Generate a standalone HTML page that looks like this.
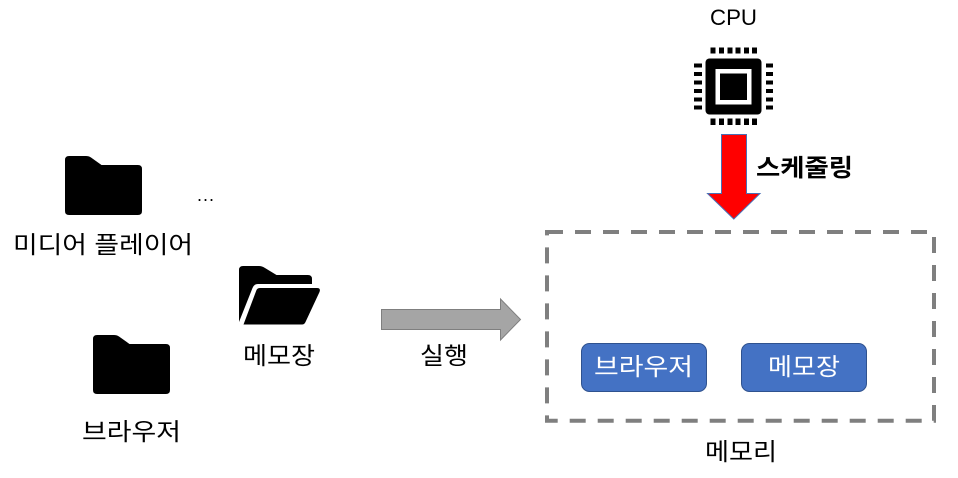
<!DOCTYPE html>
<html lang="ko">
<head>
<meta charset="utf-8">
<title>Diagram</title>
<style>
html,body{margin:0;padding:0;background:#fff;}
svg{display:block;}
text{font-family:"Liberation Sans","Noto Sans CJK KR",sans-serif;font-size:24px;fill:#000;}
.k{font-family:"Noto Sans CJK KR","NanumGothic",sans-serif;}
</style>
</head>
<body>
<svg width="958" height="478" viewBox="0 0 958 478" xmlns="http://www.w3.org/2000/svg">
<defs>
<path id="folder" d="M69 156H86Q89 156 91 157.500L101.500 165H138Q142 165 142 169V211Q142 215 138 215H69Q65 215 65 211V160Q65 156 69 156Z"/>
</defs>

<use href="#folder"/>
<use href="#folder" x="28" y="179"/>

<path d="M243 266H259Q262 266 265 268L276.500 275H308Q312 275 312 279V284H258Q254 284 252.500 288L239 322V270Q239 266 243 266Z"/>
<path d="M243.500 324.500L256.500 290Q257.500 288 260 288H317Q321 288 319.500 292L305.500 322Q304.500 324.500 302 324.500Z"/>

<rect x="705.500" y="58.500" width="56" height="56" rx="4"/>
<rect x="715.500" y="69" width="36" height="35.500" fill="#fff"/>
<rect x="720" y="73.500" width="27" height="26.500"/>
<g fill="#000">
<rect x="710.500" y="47.500" width="5" height="6"/><rect x="719" y="47.500" width="5" height="6"/><rect x="727.500" y="47.500" width="5" height="6"/><rect x="735.500" y="47.500" width="5" height="6"/><rect x="744" y="47.500" width="5" height="6"/><rect x="752" y="47.500" width="5" height="6"/>
<rect x="710.500" y="118.500" width="5" height="6.500"/><rect x="719" y="118.500" width="5" height="6.500"/><rect x="727.500" y="118.500" width="5" height="6.500"/><rect x="735.500" y="118.500" width="5" height="6.500"/><rect x="744" y="118.500" width="5" height="6.500"/><rect x="752" y="118.500" width="5" height="6.500"/>
<rect x="694" y="63.500" width="8" height="4"/><rect x="694" y="72" width="8" height="4"/><rect x="694" y="80.500" width="8" height="4"/><rect x="694" y="89" width="8" height="4"/><rect x="694" y="97.500" width="8" height="4"/><rect x="694" y="105.500" width="8" height="4"/>
<rect x="766" y="63.500" width="7" height="4"/><rect x="766" y="72" width="7" height="4"/><rect x="766" y="80.500" width="7" height="4"/><rect x="766" y="89" width="7" height="4"/><rect x="766" y="97.500" width="7" height="4"/><rect x="766" y="105.500" width="7" height="4"/>
</g>

<path d="M721.500 134.500H746.500V193.500H760L733.800 219L707.500 193.500H721.500Z" fill="#ff0000" stroke="#4a6fb5" stroke-width="1"/>
<path d="M381.500 309.500H500.500V299L520.500 319.500L500.500 340V329.500H381.500Z" fill="#a5a5a5" stroke="#7f7f7f" stroke-width="1"/>

<rect x="547" y="232" width="387" height="188.700" fill="none" stroke="#7f7f7f" stroke-width="4" stroke-dasharray="16 12"/>

<rect x="581.500" y="343.500" width="125" height="48" rx="8" fill="#4472c4" stroke="#2f528f" stroke-width="1"/>
<rect x="741.500" y="343.500" width="125" height="48" rx="8" fill="#4472c4" stroke="#2f528f" stroke-width="1"/>

<text x="710" y="25" textLength="47" lengthAdjust="spacingAndGlyphs" style="font-size:22px">CPU</text>
<text class="k" x="756" y="176" textLength="97" lengthAdjust="spacingAndGlyphs" style="font-weight:700">스케줄링</text>
<text x="197" y="201" textLength="17" style="font-size:18px">...</text>
<text class="k" x="13" y="253" textLength="180" lengthAdjust="spacingAndGlyphs">미디어 플레이어</text>
<text class="k" x="243" y="364" textLength="72" lengthAdjust="spacingAndGlyphs">메모장</text>
<text class="k" x="82" y="440" textLength="99" lengthAdjust="spacingAndGlyphs">브라우저</text>
<text class="k" x="420" y="364" textLength="48" lengthAdjust="spacingAndGlyphs">실행</text>
<text class="k" x="594" y="375" textLength="99" lengthAdjust="spacingAndGlyphs" style="fill:#fff">브라우저</text>
<text class="k" x="768" y="375" textLength="72" lengthAdjust="spacingAndGlyphs" style="fill:#fff">메모장</text>
<text class="k" x="705" y="460" textLength="72" lengthAdjust="spacingAndGlyphs">메모리</text>
</svg>
</body>
</html>
